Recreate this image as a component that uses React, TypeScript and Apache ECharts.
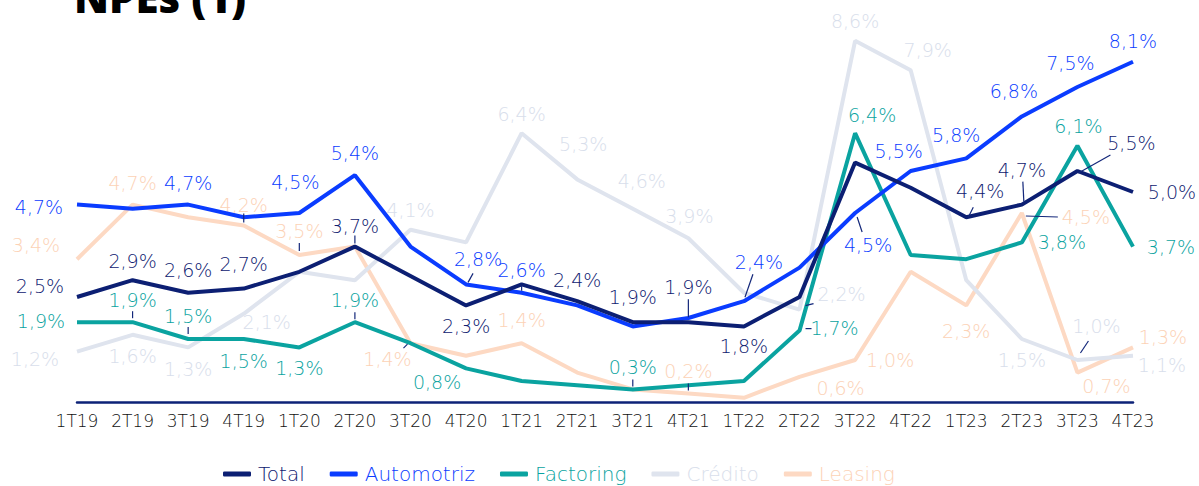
import React, { useEffect, useRef } from "react";
import * as echarts from "echarts";

const categories = ["1T19","2T19","3T19","4T19","1T20","2T20","3T20","4T20","1T21","2T21","3T21","4T21","1T22","2T22","3T22","4T22","1T23","2T23","3T23","4T23"];

const total =      [2.5, 2.9, 2.6, 2.7, 3.1, 3.7, 3.0, 2.3, 2.8, 2.4, 1.9, 1.9, 1.8, 2.5, 5.7, 5.1, 4.4, 4.7, 5.5, 5.0];
const automotriz = [4.7, 4.6, 4.7, 4.4, 4.5, 5.4, 3.7, 2.8, 2.6, 2.3, 1.8, 2.0, 2.4, 3.2, 4.5, 5.5, 5.8, 6.8, 7.5, 8.1];
const factoring =  [1.9, 1.9, 1.5, 1.5, 1.3, 1.9, 1.4, 0.8, 0.5, 0.4, 0.3, 0.4, 0.5, 1.7, 6.4, 3.5, 3.4, 3.8, 6.1, 3.7];
const credito =    [1.2, 1.6, 1.3, 2.1, 3.1, 2.9, 4.1, 3.8, 6.4, 5.3, 4.6, 3.9, 2.6, 2.2, 8.6, 7.9, 2.9, 1.5, 1.0, 1.1];
const leasing =    [3.4, 4.7, 4.4, 4.2, 3.5, 3.7, 1.4, 1.1, 1.4, 0.7, 0.3, 0.2, 0.1, 0.6, 1.0, 3.1, 2.3, 4.5, 0.7, 1.3];

const seriesNames = ["Total", "Automotriz", "Factoring", "Crédito", "Leasing"];
const seriesValues = [total, automotriz, factoring, credito, leasing];
const lineColors = ["#0c1f73", "#0a3cff", "#0aa3a0", "#dfe4ee", "#fdd9c3"];
const labelColors = ["#0e2070", "#0a3cff", "#0aa3a0", "#d8deeb", "#fcd2b6"];

// label offsets (px from point), null = no label
type Off = [number, number] | null;
const labelOffsets: Off[][] = [
  [[-37,-11],[0,-19],[0,-23],[0,-25],null,[0,-21],null,[0,21],null,[0,-21],[0,-25],[0,-35],[0,20],null,null,null,[14,-26],[0,-35],[54,-28],[39,0]],
  [[-38,2],null,[0,-22],null,[-4,-31],[0,-22],null,[12,-25],[0,-23],null,null,null,[15,-39],null,[13,32],[-12,-20],[-10,-23],[-8,-25],[-7,-24],[0,-21]],
  [[-36,-1],[0,-22],[0,-23],[0,22],[0,21],[0,-22],null,[-29,14],null,null,[0,-22],null,null,[35,-3],[17,-18],null,null,[40,0],[1,-20],[38,0]],
  [[-42,7],[0,21],[0,22],[23,8],null,null,[0,-20],null,[0,-19],[6,-35],[9,-28],[1,-22],null,[42,-16],[0,-20],[17,-20],null,[0,21],[19,-34],[29,9]],
  [[-41,-14],[0,-22],null,[0,-21],[0,-24],null,[-23,16],null,[0,-23],null,null,[0,-23],null,[41,11],[35,0],null,[0,26],[64,4],[29,13],[30,-10]],
];

// leader ticks: [seriesIndex, dataIndex, x1, y1, x2, y2] relative to the point
const leaders: [number, number, number, number, number, number][] = [
  [4, 3, 0, -3, 0, -12],
  [4, 4, 0, -4, 0, -12],
  [2, 1, 0, -4, 0, -11],
  [2, 2, 0, -5, 0, -12],
  [0, 5, 0, -3, 0, -11],
  [2, 5, 0, -3, 0, -10],
  [4, 6, -3, 1, -7, 5],
  [1, 7, 2, -2, 7, -11],
  [1, 8, 0, -2, 0, -7],
  [2, 10, 0, -3, 0, -10],
  [0, 11, 0, -5, 0, -23],
  [4, 11, 0, -3, 0, -10],
  [1, 12, 1, -4, 9, -27],
  [3, 13, 6, -4, 14, -6],
  [2, 13, 6, -2, 12, -2],
  [1, 14, 2, 4, 7, 19],
  [0, 16, 2, 0, 7, -10],
  [0, 17, 1, -23, 2, -3],
  [4, 17, 4, 3, 36, 4],
  [0, 18, 1, 2, 33, -16],
  [3, 18, 3, -7, 11, -19],
];

const FONT = "'DejaVu Sans', sans-serif";
const TITLE_FONT = "'Open Sans', 'Noto Sans', sans-serif";

export default function App() {
  const ref = useRef<HTMLDivElement>(null);
  useEffect(() => {
    if (!ref.current) return;
    const chart = echarts.init(ref.current, null, { renderer: "svg" });
    const series = seriesValues.map((vals, si) => ({
      name: seriesNames[si],
      type: "line",
      z: 10 - si,
      symbol: "circle",
      symbolSize: 0.1,
      showSymbol: true,
      showAllSymbol: true,
      itemStyle: { color: lineColors[si] },
      lineStyle: { color: lineColors[si], width: 4 },
      label: {
        show: false,
        position: "inside",
        color: labelColors[si],
        fontFamily: FONT,
        fontWeight: 200,
        fontSize: 19,
      },
      data: vals.map((v, i) => {
        const off = labelOffsets[si][i];
        return off
          ? { value: v, label: { show: true, offset: off, formatter: () => v.toFixed(1).replace(".", ",") + "%" } }
          : { value: v };
      }),
    }));
    const title = { type: "text", left: 74, top: -25, style: { text: "NPEs (1)", fill: "#000", font: "800 42px " + TITLE_FONT } };
    chart.setOption({
      animation: false,
      grid: { left: 77, right: 66, top: 24, bottom: 84 },
      xAxis: {
        type: "category",
        data: categories,
        boundaryGap: false,
        axisLine: { lineStyle: { color: "#0c2277", width: 2.5 } },
        axisTick: { show: false },
        axisLabel: { color: "#111", fontFamily: FONT, fontWeight: 200, fontSize: 17, margin: 10, interval: 0 },
      },
      yAxis: { type: "value", min: 0, max: 9, show: false, splitLine: { show: false } },
      legend: {
        left: 218,
        top: 459,
        icon: "roundRect",
        itemWidth: 28,
        itemHeight: 5,
        itemGap: 25,
        textStyle: { fontFamily: FONT, fontWeight: 200, fontSize: 20, padding: [0, 0, 0, 2] },
        data: seriesNames.map((n, i) => ({ name: n, textStyle: { color: labelColors[i] } })),
      },
      series,
      graphic: [title],
    });
    const lines = leaders.map(([si, di, x1, y1, x2, y2]) => {
      const p = chart.convertToPixel({ gridIndex: 0 }, [di, seriesValues[si][di]]) as number[];
      return {
        type: "line",
        z: 100,
        shape: { x1: p[0] + x1, y1: p[1] + y1, x2: p[0] + x2, y2: p[1] + y2 },
        style: { stroke: "#13277a", lineWidth: 1.2 },
      };
    });
    chart.setOption({ graphic: [title, ...lines] });
    return () => chart.dispose();
  }, []);
  return <div ref={ref} style={{ width: 1199, height: 486, position: "absolute", left: 0, top: 0 }} />;
}
